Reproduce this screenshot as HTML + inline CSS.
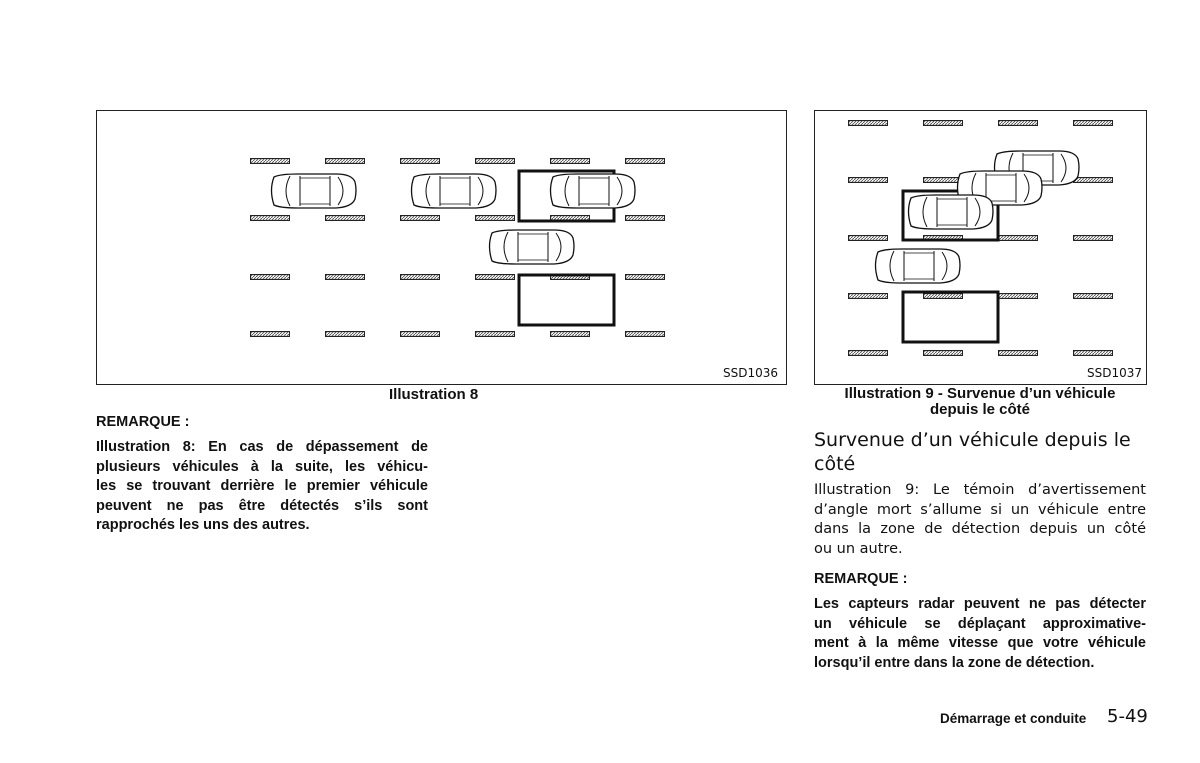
<!DOCTYPE html>
<html><head><meta charset="utf-8"><style>
body{margin:0;width:1200px;height:763px;background:#fff;position:relative;overflow:hidden;font-family:"DejaVu Sans","Liberation Sans",sans-serif;color:#111}
.t{position:absolute;white-space:nowrap}
.b{font-weight:bold}
.lb{font-family:"Liberation Sans",sans-serif;font-weight:bold}
.jj{text-align:justify;text-align-last:justify;white-space:nowrap}
svg{position:absolute;left:0;top:0}
</style></head><body>
<svg width="1200" height="763" viewBox="0 0 1200 763">
<defs>
<pattern id="h" width="3" height="3" patternUnits="userSpaceOnUse"><rect width="3" height="3" fill="#fff"/><path d="M0 3L3 0" stroke="#555" stroke-width="1"/></pattern>
<g id="m"><rect x="0.5" y="0.5" width="39" height="5" fill="url(#h)" stroke="#222" stroke-width="1"/></g>
<g id="car">
<path d="M6 4 Q1 17 6 32 Q12 35 30 35 L68 35 Q84 34 87 26 Q89 17 87 9 Q84 1 68 1 L30 1 Q12 1 6 4Z" fill="#fff" stroke="#111" stroke-width="1.3"/>
<path d="M22 3 Q14 18 22 33" fill="none" stroke="#111"/>
<path d="M32 3 L32 33 M62 3 L62 33" fill="none" stroke="#111"/>
<path d="M70 4 Q80 18 70 32" fill="none" stroke="#111"/>
<path d="M32 5 L62 5 M32 31 L62 31" stroke="#111" stroke-width="0.8"/>
</g>
</defs>
<rect x="96.5" y="110.5" width="690" height="274" fill="none" stroke="#222"/>
<rect x="814.5" y="110.5" width="332" height="274" fill="none" stroke="#222"/>
<g>
<use href="#m" x="250" y="158"/><use href="#m" x="325" y="158"/><use href="#m" x="400" y="158"/><use href="#m" x="475" y="158"/><use href="#m" x="550" y="158"/><use href="#m" x="625" y="158"/>
<use href="#m" x="250" y="215"/><use href="#m" x="325" y="215"/><use href="#m" x="400" y="215"/><use href="#m" x="475" y="215"/><use href="#m" x="550" y="215"/><use href="#m" x="625" y="215"/>
<use href="#m" x="250" y="274"/><use href="#m" x="325" y="274"/><use href="#m" x="400" y="274"/><use href="#m" x="475" y="274"/><use href="#m" x="550" y="274"/><use href="#m" x="625" y="274"/>
<use href="#m" x="250" y="331"/><use href="#m" x="325" y="331"/><use href="#m" x="400" y="331"/><use href="#m" x="475" y="331"/><use href="#m" x="550" y="331"/><use href="#m" x="625" y="331"/>
</g>
<rect x="519" y="171" width="95" height="50" fill="none" stroke="#111" stroke-width="3"/>
<rect x="519" y="275" width="95" height="50" fill="none" stroke="#111" stroke-width="3"/>
<use href="#car" x="268" y="173"/><use href="#car" x="408" y="173"/><use href="#car" x="547" y="173"/><use href="#car" x="486" y="229"/>
<g>
<use href="#m" x="848" y="120"/><use href="#m" x="923" y="120"/><use href="#m" x="998" y="120"/><use href="#m" x="1073" y="120"/>
<use href="#m" x="848" y="177"/><use href="#m" x="923" y="177"/><use href="#m" x="998" y="177"/><use href="#m" x="1073" y="177"/>
<use href="#m" x="848" y="235"/><use href="#m" x="923" y="235"/><use href="#m" x="998" y="235"/><use href="#m" x="1073" y="235"/>
<use href="#m" x="848" y="293"/><use href="#m" x="923" y="293"/><use href="#m" x="998" y="293"/><use href="#m" x="1073" y="293"/>
<use href="#m" x="848" y="350"/><use href="#m" x="923" y="350"/><use href="#m" x="998" y="350"/><use href="#m" x="1073" y="350"/>
</g>
<rect x="903" y="191" width="95" height="49" fill="none" stroke="#111" stroke-width="3"/>
<rect x="903" y="292" width="95" height="50" fill="none" stroke="#111" stroke-width="3"/>
<use href="#car" x="991" y="150"/><use href="#car" x="954" y="170"/><use href="#car" x="905" y="194"/><use href="#car" x="872" y="248"/>
</svg>
<div class="t" style="left:723px;top:366px;font-size:12px">SSD1036</div>
<div class="t" style="left:1087px;top:366px;font-size:12px">SSD1037</div>
<div class="t lb" style="left:389px;top:386px;font-size:15px">Illustration 8</div>
<div class="t lb" style="left:96px;top:414px;font-size:14.5px">REMARQUE :</div>
<div class="lb" style="position:absolute;left:96px;top:438px;width:332px;font-size:14.5px;line-height:19.5px">
<div class="jj">Illustration 8: En cas de dépassement de</div>
<div class="jj">plusieurs véhicules à la suite, les véhicu-</div>
<div class="jj">les se trouvant derrière le premier véhicule</div>
<div class="jj">peuvent ne pas être détectés s’ils sont</div>
<div style="white-space:nowrap">rapprochés les uns des autres.</div>
</div>
<div class="lb" style="position:absolute;left:814px;top:386px;width:332px;text-align:center;font-size:15px;line-height:16px">Illustration 9 - Survenue d’un véhicule<br>depuis le côté</div>
<div style="position:absolute;left:814px;top:428px;width:340px;font-size:19px;line-height:24px">Survenue d’un véhicule depuis le<br>côté</div>
<div style="position:absolute;left:814px;top:481px;width:332px;font-size:14.5px;line-height:19.5px">
<div class="jj">Illustration 9: Le témoin d’avertissement</div>
<div class="jj">d’angle mort s’allume si un véhicule entre</div>
<div class="jj">dans la zone de détection depuis un côté</div>
<div>ou un autre.</div>
</div>
<div class="t lb" style="left:814px;top:571px;font-size:14.5px">REMARQUE :</div>
<div class="lb" style="position:absolute;left:814px;top:595px;width:332px;font-size:14.5px;line-height:19.5px">
<div class="jj">Les capteurs radar peuvent ne pas détecter</div>
<div class="jj">un véhicule se déplaçant approximative-</div>
<div class="jj">ment à la même vitesse que votre véhicule</div>
<div style="white-space:nowrap">lorsqu’il entre dans la zone de détection.</div>
</div>
<div class="t lb" style="left:940px;top:711px;font-size:13.5px">Démarrage et conduite</div>
<div class="t" style="left:1107px;top:706px;font-size:18px">5-49</div>
</body></html>
